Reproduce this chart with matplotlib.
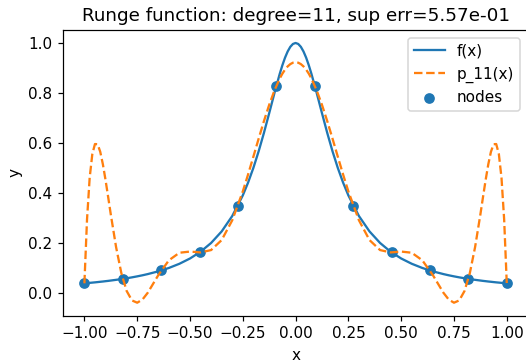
import numpy as np
import matplotlib.pyplot as plt

# right half of the curves, mirrored below
x_half = [0, 0.0125, 0.025, 0.0375, 0.05, 0.0625, 0.075, 0.1, 0.125, 0.15,
          0.175, 0.2, 0.225, 0.25, 0.3, 0.35, 0.4, 0.45, 0.5, 0.55, 0.6,
          0.65, 0.7, 0.725, 0.75, 0.775, 0.8, 0.825, 0.85, 0.875, 0.8875,
          0.9, 0.9125, 0.925, 0.9375, 0.95, 0.9625, 0.975, 0.9875, 1.0]
f_half = [1.0, 0.9961, 0.9846, 0.9660, 0.9412, 0.9110, 0.8767, 0.8, 0.7191,
          0.64, 0.5664, 0.5, 0.4414, 0.3902, 0.3077, 0.2462, 0.2, 0.1649,
          0.1379, 0.1168, 0.1, 0.0865, 0.0755, 0.0707, 0.0664, 0.0624, 0.0588,
          0.0555, 0.0525, 0.0497, 0.0483, 0.0471, 0.0458, 0.0447, 0.0435,
          0.0424, 0.0414, 0.0404, 0.0394, 0.0385]
p_half = [0.9230, 0.9211, 0.9155, 0.9063, 0.8935, 0.8773, 0.8579, 0.8101,
          0.7524, 0.6871, 0.6170, 0.5449, 0.4737, 0.4060, 0.2907, 0.2116,
          0.1716, 0.1621, 0.1656, 0.1609, 0.1307, 0.0714, 0.0009, -0.0263,
          -0.0390, -0.0298, 0.0081, 0.0792, 0.1836, 0.3140, 0.3839, 0.4524,
          0.5148, 0.5648, 0.5950, 0.5957, 0.5556, 0.4609, 0.2950, 0.0385]

node_x = [-1.0, -0.8182, -0.6364, -0.4545, -0.2727, -0.0909,
          0.0909, 0.2727, 0.4545, 0.6364, 0.8182, 1.0]
node_y = [0.0385, 0.0564, 0.0899, 0.1622, 0.3497, 0.8288,
          0.8288, 0.3497, 0.1622, 0.0899, 0.0564, 0.0385]

xs = np.concatenate([-np.array(x_half[:0:-1]), x_half])
fs = np.concatenate([f_half[:0:-1], f_half])
ps = np.concatenate([p_half[:0:-1], p_half])

dpi = 110
fig = plt.figure(figsize=(526 / dpi, 361 / dpi), dpi=dpi)
ax = fig.add_axes([0.1203, 0.1255, 0.8833, 0.7914])

ax.plot(xs, fs, label="f(x)")
ax.plot(xs, ps, "--", label="p_11(x)")
ax.scatter(node_x, node_y, label="nodes")

ax.set_title("Runge function: degree=11, sup err=5.57e-01")
ax.set_xlabel("x")
ax.set_ylabel("y")
ax.legend(loc="upper right")

fig.savefig("out.png", dpi=dpi)
